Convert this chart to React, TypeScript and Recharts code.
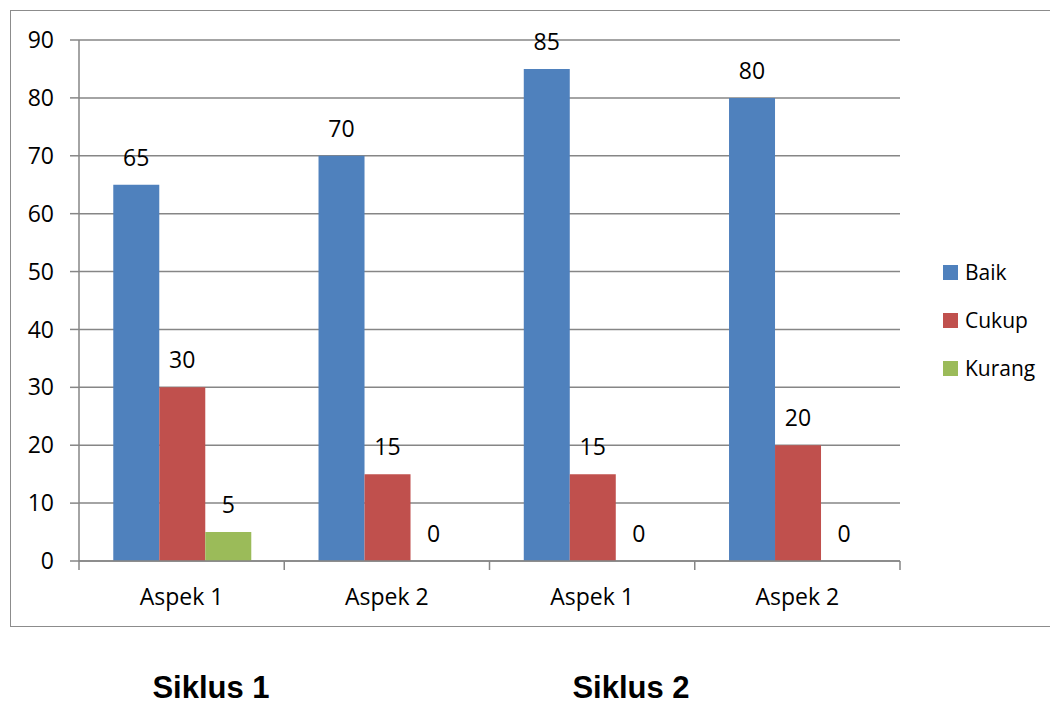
import React from 'react';
import { BarChart, Bar, XAxis, YAxis, CartesianGrid, LabelList } from 'recharts';

const categories = ['Aspek 1', 'Aspek 2', 'Aspek 1', 'Aspek 2'];
const baik = [65, 70, 85, 80];
const cukup = [30, 15, 15, 20];
const kurang = [5, 0, 0, 0];
const yTicks = [0, 10, 20, 30, 40, 50, 60, 70, 80, 90];
const groupLabels = ['Siklus 1', 'Siklus 2'];

const series = [
  { key: 'baik', name: 'Baik', color: '#4F81BD' },
  { key: 'cukup', name: 'Cukup', color: '#C0504D' },
  { key: 'kurang', name: 'Kurang', color: '#9BBB59' },
];

const data = categories.map((c, i) => ({
  id: `${c}-${i}`,
  label: c,
  baik: baik[i],
  cukup: cukup[i],
  kurang: kurang[i],
}));

const FONT = '"Open Sans", sans-serif';
const AXIS = '#868686';

const CategoryTick = (props: any) => {
  const { x, y, payload, index } = props;
  const half = payload && payload.offset ? payload.offset : 102.75;
  const label = data[index] ? data[index].label : '';
  return (
    <g>
      <line x1={x - half} y1={y - 8} x2={x - half} y2={y + 1} stroke={AXIS} strokeWidth={1.5} />
      {index === data.length - 1 && (
        <line x1={x + half} y1={y - 8} x2={x + half} y2={y + 1} stroke={AXIS} strokeWidth={1.5} />
      )}
      <text x={x} y={y + 36} textAnchor="middle" fill="#000" fontSize={23} fontFamily={FONT}>
        {label}
      </text>
    </g>
  );
};

const BarValue = (props: any) => {
  const { x, y, width, value } = props;
  if (x == null || y == null) return null;
  return (
    <text x={x + width / 2} y={y - 19} textAnchor="middle" fill="#000" fontSize={23} fontFamily={FONT}>
      {value}
    </text>
  );
};

// keeps zero-value bars in the layout so their "0" labels still get drawn
const zeroPointSize = (value: any) => (value === 0 ? 0.01 : 0);

export default function App() {
  return (
    <div style={{ position: 'relative', top: -8, left: -8, width: 1058, height: 701, background: '#fff', overflow: 'hidden' }}>
      <div
        style={{
          position: 'absolute',
          left: 10,
          top: 10,
          width: 1060,
          height: 617,
          border: '1.5px solid #8c8c8c',
          boxSizing: 'border-box',
        }}
      />
      <div style={{ position: 'absolute', left: 0, top: 0 }}>
        <BarChart
          width={1058}
          height={640}
          data={data}
          margin={{ top: 40, right: 158, left: 29, bottom: 19 }}
          barCategoryGap="16.7%"
          barGap={0}
        >
          <CartesianGrid vertical={false} stroke={AXIS} strokeWidth={1.5} />
          <XAxis
            dataKey="id"
            height={60}
            stroke={AXIS}
            strokeWidth={1.5}
            tickLine={false}
            interval={0}
            tick={<CategoryTick />}
          />
          <YAxis
            width={50}
            domain={[0, 90]}
            ticks={yTicks}
            interval={0}
            stroke={AXIS}
            strokeWidth={1.5}
            tickSize={9}
            tickMargin={16}
            tick={{ fill: '#000', fontSize: 23, fontFamily: FONT }}
          />
          {series.map((s) => (
            <Bar
              key={s.key}
              dataKey={s.key}
              name={s.name}
              fill={s.color}
              minPointSize={zeroPointSize}
              isAnimationActive={false}
            >
              <LabelList dataKey={s.key} content={<BarValue />} />
            </Bar>
          ))}
        </BarChart>
      </div>
      <div style={{ position: 'absolute', left: 943, top: 248, fontFamily: FONT, fontSize: 21, color: '#000' }}>
        {series.map((s) => (
          <div key={s.key} style={{ display: 'flex', alignItems: 'center', height: 48 }}>
            <span style={{ width: 15, height: 15, background: s.color, marginRight: 7, display: 'inline-block' }} />
            <span>{s.name}</span>
          </div>
        ))}
      </div>
      {groupLabels.map((g, i) => (
        <div
          key={g}
          style={{
            position: 'absolute',
            left: i === 0 ? 111 : 531,
            width: 200,
            top: 675,
            height: 25,
            lineHeight: '25px',
            textAlign: 'center',
            fontFamily: '"Liberation Sans", Arial, sans-serif',
            fontWeight: 'bold',
            fontSize: 31,
            color: '#000',
          }}
        >
          {g}
        </div>
      ))}
    </div>
  );
}
